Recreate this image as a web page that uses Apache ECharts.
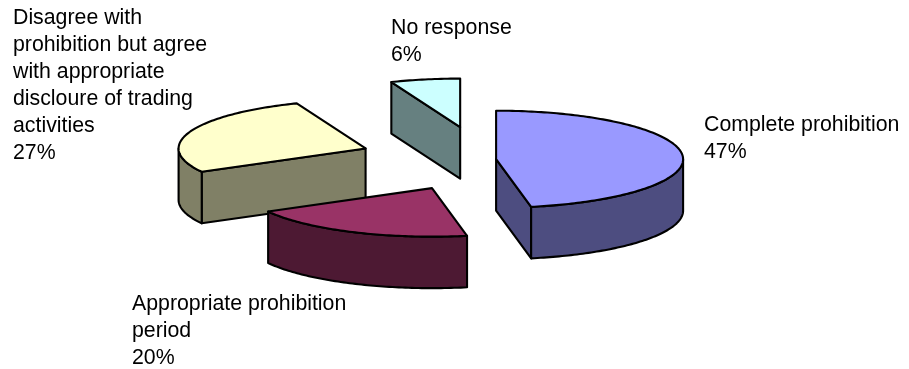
<!DOCTYPE html>
<html>
<head>
<meta charset="utf-8">
<style>html,body{margin:0;padding:0;background:#fff}#chart{width:909px;height:369px}</style>
<script src="https://cdn.jsdelivr.net/npm/echarts@6/dist/echarts.min.js"></script>
</head>
<body>
<div id="chart"></div>
<script>
// Survey responses, in drawing order clockwise from twelve o'clock.
const categories = [
  'Complete prohibition',
  'Appropriate prohibition\nperiod',
  'Disagree with\nprohibition but agree\nwith appropriate\ndiscloure of trading\nactivities',
  'No response'
];
const shares = [47, 20, 27, 6];
const explodeFactors = [0.065, 0.653, 0.673, 0.68];
const topColors = ['#9999FF', '#993366', '#FFFFCC', '#CCFFFF'];
const sideColors = ['#4D4D80', '#4D1933', '#808066', '#668080'];
const labelAnchors = [[704, 112], [132, 291], [13, 5], [391, 15]];

// Projection of the tilted pie.
const centre = [484, 159.5];
const radiusX = 187;
const radiusY = 48.5;
const depth = 51.5;
const total = shares.reduce((a, b) => a + b, 0);
const rad = d => d * Math.PI / 180;

// Cumulative start angle of each slice, in degrees clockwise from the top.
const startAngles = [];
shares.reduce((sum, v) => { startAngles.push(sum / total * 360); return sum + v; }, 0);

function onEllipse(apex, deg) {
  return [apex[0] + radiusX * Math.sin(rad(deg)), apex[1] - radiusY * Math.cos(rad(deg))];
}
function arcPoints(apex, from, to) {
  const pts = [];
  const steps = Math.max(2, Math.ceil(to - from));
  for (let i = 0; i <= steps; i++) pts.push(onEllipse(apex, from + (to - from) * i / steps));
  return pts;
}
const drop = p => [p[0], p[1] + depth];
const wall = pts => pts.concat(pts.slice().reverse().map(drop));
const lineStyle = { stroke: '#000', lineWidth: 2.1, lineJoin: 'round' };

function renderSlice(params, api) {
  const i = params.dataIndex;
  const from = api.value(1);
  const to = from + api.value(2) / total * 360;
  const mid = rad((from + to) / 2);
  const k = api.value(3);
  const apex = [centre[0] + k * radiusX * Math.sin(mid), centre[1] - k * radiusY * Math.cos(mid)];
  const rim = arcPoints(apex, from, to);
  const first = rim[0];
  const last = rim[rim.length - 1];
  const children = [];
  const addWall = pts => children.push({
    type: 'polygon',
    shape: { points: wall(pts) },
    style: Object.assign({ fill: sideColors[i] }, lineStyle)
  });

  // Only walls that face the viewer are drawn: those running leftward on screen.
  if (first[0] < apex[0] - 0.01) addWall([apex, first]);
  if (last[0] > apex[0] + 0.01) addWall([last, apex]);
  const front = [Math.max(from, 90), Math.min(to, 270)];
  if (front[1] > front[0]) addWall(arcPoints(apex, front[0], front[1]));

  children.push({
    type: 'polygon',
    shape: { points: [apex].concat(rim) },
    style: Object.assign({ fill: topColors[i] }, lineStyle)
  });
  children.push({
    type: 'text',
    x: labelAnchors[i][0],
    y: labelAnchors[i][1],
    style: {
      text: categories[i] + '\n' + shares[i] + '%',
      font: '21.3px "Liberation Sans", Arial, sans-serif',
      lineHeight: 27,
      fill: '#000',
      align: 'left',
      verticalAlign: 'top'
    }
  });
  return { type: 'group', children };
}

// Back slices are painted first so the nearer ones overlap them.
const paintOrder = [3, 2, 1, 0];
const chart = echarts.init(document.getElementById('chart'), null, { renderer: 'canvas' });
chart.setOption({
  animation: false,
  backgroundColor: '#fff',
  series: [{
    type: 'custom',
    coordinateSystem: 'none',
    silent: true,
    renderItem: (params, api) => renderSlice({ dataIndex: paintOrder[params.dataIndex] }, api),
    data: paintOrder.map(i => [i, startAngles[i], shares[i], explodeFactors[i]])
  }]
});
</script>
</body>
</html>
